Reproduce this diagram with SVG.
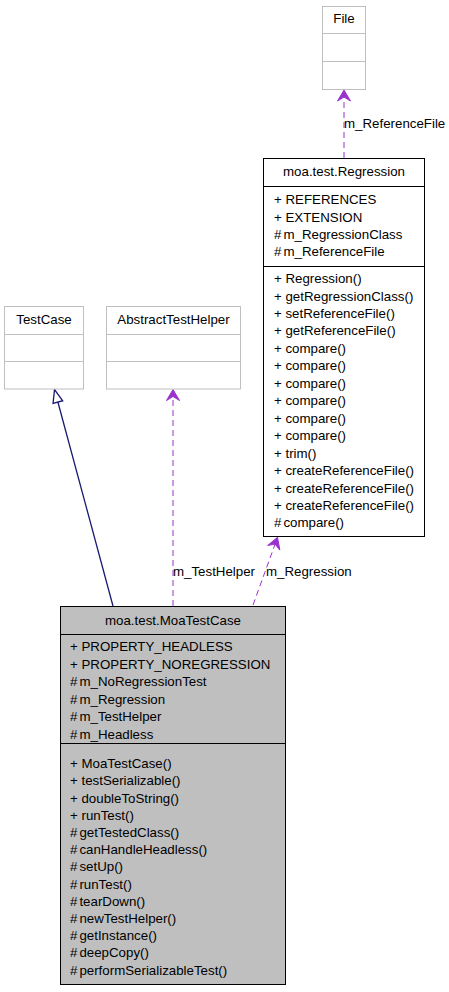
<svg xmlns="http://www.w3.org/2000/svg" width="449" height="992" viewBox="0 0 449 992">
<style>
text{font-family:"Liberation Sans",Arial,Helvetica,sans-serif;font-size:13.3px;fill:#000}
.c{text-anchor:middle}
.gbox{fill:#fff;stroke:#bfbfbf;stroke-width:1}
.gline{stroke:#bfbfbf;stroke-width:1}
.box{fill:#fff;stroke:#000;stroke-width:1}
.sel{fill:#bfbfbf;stroke:#000;stroke-width:1}
.line{stroke:#000;stroke-width:1}
.use{fill:none;stroke:#9a32cd;stroke-width:1;stroke-dasharray:6,4}
.inh{fill:none;stroke:#191970;stroke-width:1.3}
</style>
<defs>
<marker id="vee" markerUnits="userSpaceOnUse" markerWidth="20" markerHeight="20" viewBox="-15 -10 20 20" refX="0" refY="0" orient="auto" overflow="visible">
<path d="M0,0 L-11,-6.5 L-7,0 L-11,6.5 Z" fill="#9a32cd" stroke="#9a32cd" stroke-width="1"/>
</marker>
<marker id="tri" markerUnits="userSpaceOnUse" markerWidth="20" markerHeight="20" viewBox="-15 -10 20 20" refX="0" refY="0" orient="auto" overflow="visible">
<path d="M0,0 L-13,-5 L-13,5 Z" fill="#fff" stroke="#191970" stroke-width="1.3"/>
</marker>
</defs>

<g id="connectors">
<path class="use" d="M344,158 L344,90" marker-end="url(#vee)"/>
<text x="344" y="127.7">m_ReferenceFile</text>
<path class="use" d="M173,606 L173,389.5" marker-end="url(#vee)"/>
<text x="173" y="576">m_TestHelper</text>
<path class="use" d="M253,605 L277.5,537.5" marker-end="url(#vee)"/>
<text x="266" y="576">m_Regression</text>
<path class="inh" d="M113,606 L54.5,389.5" marker-end="url(#tri)"/>
</g>

<g id="File">
<rect class="gbox" x="322.5" y="6.5" width="43" height="83"/>
<line class="gline" x1="322.5" y1="33.5" x2="365.5" y2="33.5"/>
<line class="gline" x1="322.5" y1="61.5" x2="365.5" y2="61.5"/>
<text class="c" x="344" y="23">File</text>
</g>

<g id="TestCase">
<rect class="gbox" x="4.5" y="306.5" width="79" height="82.5"/>
<line class="gline" x1="4.5" y1="334.5" x2="83.5" y2="334.5"/>
<line class="gline" x1="4.5" y1="361.5" x2="83.5" y2="361.5"/>
<text class="c" x="44" y="323.5">TestCase</text>
</g>

<g id="AbstractTestHelper">
<rect class="gbox" x="106.5" y="306.5" width="134" height="82.5"/>
<line class="gline" x1="106.5" y1="334.5" x2="240.5" y2="334.5"/>
<line class="gline" x1="106.5" y1="361.5" x2="240.5" y2="361.5"/>
<text class="c" x="173.5" y="323.5">AbstractTestHelper</text>
</g>

<g id="Regression">
<rect class="box" x="263.5" y="158.5" width="161" height="378"/>
<line class="line" x1="263.5" y1="186.5" x2="424.5" y2="186.5"/>
<line class="line" x1="263.5" y1="266.5" x2="424.5" y2="266.5"/>
<text class="c" x="344" y="176">moa.test.Regression</text>
<text x="274" y="204.2">+ REFERENCES</text>
<text x="274" y="221.6">+ EXTENSION</text>
<text x="274" y="239">#<tspan dx="2">m_RegressionClass</tspan></text>
<text x="274" y="256.4">#<tspan dx="2">m_ReferenceFile</tspan></text>
<text x="274" y="283">+ Regression()</text>
<text x="274" y="300.5">+ getRegressionClass()</text>
<text x="274" y="317.9">+ setReferenceFile()</text>
<text x="274" y="335.4">+ getReferenceFile()</text>
<text x="274" y="352.8">+ compare()</text>
<text x="274" y="370.3">+ compare()</text>
<text x="274" y="387.8">+ compare()</text>
<text x="274" y="405.2">+ compare()</text>
<text x="274" y="422.7">+ compare()</text>
<text x="274" y="440.1">+ compare()</text>
<text x="274" y="457.6">+ trim()</text>
<text x="274" y="475.1">+ createReferenceFile()</text>
<text x="274" y="492.5">+ createReferenceFile()</text>
<text x="274" y="510">+ createReferenceFile()</text>
<text x="274" y="527.4">#<tspan dx="2">compare()</tspan></text>
</g>

<g id="MoaTestCase">
<rect class="sel" x="60.5" y="606.5" width="225" height="378"/>
<line class="line" x1="60.5" y1="634.5" x2="285.5" y2="634.5"/>
<line class="line" x1="60.5" y1="743.5" x2="285.5" y2="743.5"/>
<text class="c" x="173" y="624.5">moa.test.MoaTestCase</text>
<text x="70" y="651.2">+ PROPERTY_HEADLESS</text>
<text x="70" y="668.7">+ PROPERTY_NOREGRESSION</text>
<text x="70" y="686.2">#<tspan dx="2">m_NoRegressionTest</tspan></text>
<text x="70" y="703.7">#<tspan dx="2">m_Regression</tspan></text>
<text x="70" y="721.2">#<tspan dx="2">m_TestHelper</tspan></text>
<text x="70" y="738.7">#<tspan dx="2">m_Headless</tspan></text>
<text x="70" y="768.2">+ MoaTestCase()</text>
<text x="70" y="785.4">+ testSerializable()</text>
<text x="70" y="802.6">+ doubleToString()</text>
<text x="70" y="819.8">+ runTest()</text>
<text x="70" y="837">#<tspan dx="2">getTestedClass()</tspan></text>
<text x="70" y="854.2">#<tspan dx="2">canHandleHeadless()</tspan></text>
<text x="70" y="871.4">#<tspan dx="2">setUp()</tspan></text>
<text x="70" y="888.6">#<tspan dx="2">runTest()</tspan></text>
<text x="70" y="905.8">#<tspan dx="2">tearDown()</tspan></text>
<text x="70" y="923">#<tspan dx="2">newTestHelper()</tspan></text>
<text x="70" y="940.2">#<tspan dx="2">getInstance()</tspan></text>
<text x="70" y="957.4">#<tspan dx="2">deepCopy()</tspan></text>
<text x="70" y="974.6">#<tspan dx="2">performSerializableTest()</tspan></text>
</g>
</svg>
